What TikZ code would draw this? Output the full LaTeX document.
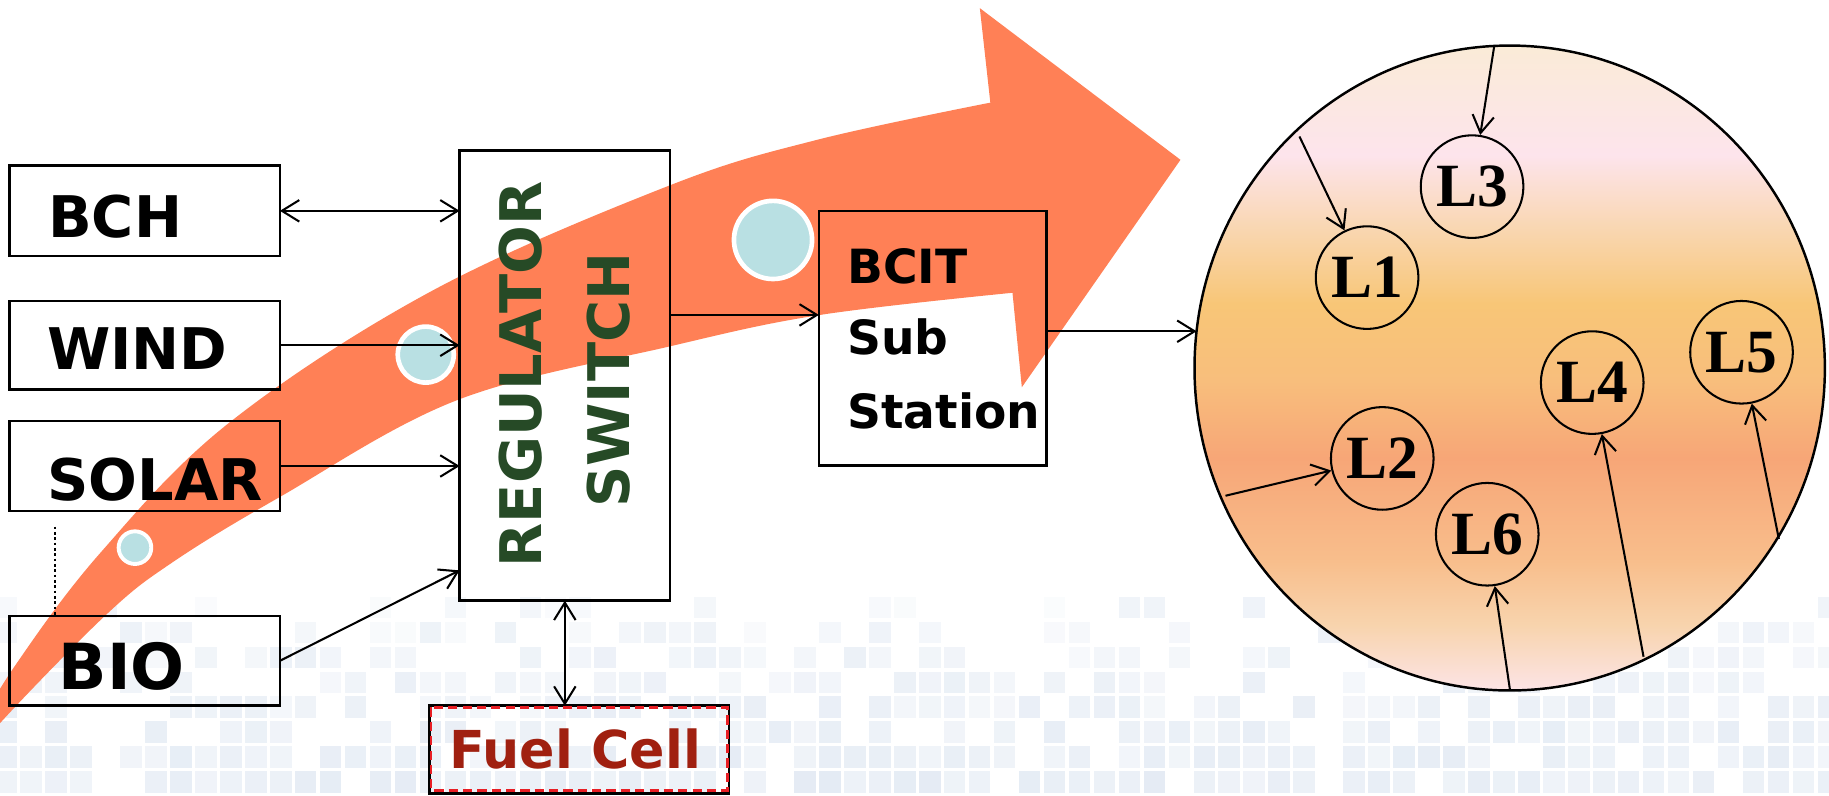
\documentclass[tikz,border=0pt]{standalone}
\usepackage{fontspec}
\setmainfont{DejaVu Sans}
\newfontfamily\lfont{Liberation Serif}
\usetikzlibrary{arrows.meta,shapes.geometric}

\definecolor{flow}{RGB}{255,128,86}
\definecolor{dotfill}{RGB}{185,224,227}
\definecolor{regtext}{RGB}{38,74,38}
\definecolor{fueltext}{RGB}{160,32,16}
\definecolor{dashred}{RGB}{232,30,36}
\definecolor{tile}{RGB}{206,219,236}
% colours of the load zone, bottom to top
\definecolor{zA}{RGB}{252,228,230}
\definecolor{zB}{RGB}{248,212,174}
\definecolor{zC}{RGB}{248,190,140}
\definecolor{zD}{RGB}{247,166,119}
\definecolor{zE}{RGB}{248,190,124}
\definecolor{zF}{RGB}{248,198,119}
\definecolor{zG}{RGB}{249,215,179}
\definecolor{zH}{RGB}{253,228,236}
\definecolor{zI}{RGB}{250,235,215}
\pgfdeclareverticalshading{loadzone}{100bp}{%
  color(0bp)=(zA); color(25bp)=(zA); color(30bp)=(zB); color(35bp)=(zC);
  color(43bp)=(zD); color(49bp)=(zE); color(55bp)=(zF); color(61bp)=(zG);
  color(66.5bp)=(zH); color(75bp)=(zI); color(100bp)=(zI)}

\begin{document}
\begin{tikzpicture}[x=0.02cm, y=-0.02cm,
  box/.style={draw, line width=1.3pt, inner sep=0pt, outer sep=0pt},
  src/.style={font=\fontsize{28}{30}\selectfont\bfseries, anchor=base west, inner sep=0pt},
  subtxt/.style={font=\fontsize{23}{25}\selectfont\bfseries, anchor=base west, inner sep=0pt},
  vert/.style={font=\fontsize{28}{30}\selectfont\bfseries, text=regtext, rotate=90, anchor=base, inner sep=0pt},
  barb/.tip={Straight Barb[length=8.5pt,width=10.5pt]},
  arr/.style={line width=1pt, -barb},
  darr/.style={line width=1pt, barb-barb},
  load/.style={circle, draw, line width=1pt, minimum size=1.76cm, inner sep=0pt,
    font=\lfont\bfseries\fontsize{30}{32}\selectfont},
  dot/.style={circle, fill=dotfill, draw=white, inner sep=0pt}
]
\useasboundingbox (0,0) rectangle (1568,682);
\fill[white] (0,0) rectangle (1568,682);

% faint tiled band along the bottom
\pgfmathsetseed{2718}
\begin{scope}
  \clip (0,0) rectangle (1568,682);
  \foreach \r in {0,...,8}{
    \foreach \c in {0,...,73}{
      \pgfmathtruncatemacro{\keep}{rnd < (0.35+0.07*\r)}
      \pgfmathsetmacro{\op}{0.08+0.03*\r+0.25*rnd}
      \ifnum\keep=1
        \fill[tile, fill opacity=\op] ({\c*21.4-4},{511.5+\r*21.4}) rectangle ++(18.5,18.5);
      \fi
    }
  }
\end{scope}

% sweeping power-flow arrow
\fill[flow] plot[smooth, tension=0.6] coordinates {(-25,635) (12,572) (86,474) (197,362) (371,249) (574,159) (700,120) (849,88)}
  -- (840,7) -- (1012,137) -- (876,332) -- (868,251)
  -- plot[smooth, tension=0.6] coordinates {(868,251) (703,270) (574,297) (392,343) (240,426) (148,482) (91,527) (0,620) (-25,655)}
  -- cycle;

% bubbles riding on the flow
\node[dot, minimum size=1.34cm, line width=2.27pt] (d1) at (662.7,205.7) {};
\node[dot, minimum size=0.96cm, line width=2.27pt] (d2) at (365,304) {};
\node[dot, minimum size=0.56cm, line width=1.9pt] (d3) at (115.7,469.5) {};

% sources
\node[box, minimum width=4.64cm, minimum height=1.55cm] (bch) at (124,180.75) {};
\node[box, minimum width=4.64cm, minimum height=1.52cm] (wind) at (124,296) {};
\node[box, minimum width=4.64cm, minimum height=1.54cm] (solar) at (124,399.5) {};
\node[box, minimum width=4.64cm, minimum height=1.54cm] (bio) at (124,566.5) {};
\node[src] (bchtxt) at (41,204) {BCH};
\node[src] (windtxt) at (40,317) {WIND};
\node[src] (solartxt) at (40.5,429) {SOLAR};
\node[src, font=\fontsize{31}{33}\selectfont\bfseries] (biotxt) at (50,591) {BIO};

\coordinate (dottop) at (47,451.5);
\draw[line width=1.2pt, dash pattern=on 1.3pt off 1.3pt] (dottop) -- (dottop |- bio.north);

% regulator / switch
\node[box, minimum width=3.61cm, minimum height=7.72cm] (reg) at (484.25,322) {};
\node[vert] (regtxt) at (464,321) {REGULATOR};
\node[vert] (swtxt) at (540,326) {SWITCH};

% substation
\node[box, minimum width=3.9cm, minimum height=4.36cm] (bcit) at (799.5,290) {};
\node[subtxt] (bcittxt) at (726,243) {BCIT};
\node[subtxt] (subtxt1) at (726,304) {Sub};
\node[subtxt] (subtxt2) at (726,367) {Station};

% fuel cell
\node[box, minimum width=5.14cm, minimum height=1.5cm] (fuel) at (496.5,642.5) {};
\draw[dashred, line width=1.4pt, dash pattern=on 4.5pt off 2.5pt]
  ([shift={(1.5,1.5)}]fuel.north west) rectangle ([shift={(-1.5,-2.5)}]fuel.south east);
\node[anchor=base west, inner sep=0pt, text=fueltext, font=\fontsize{25.5}{27}\selectfont\bfseries] (fueltxt) at (385,658.6) {Fuel Cell};

% feeds into the regulator and onwards
\draw[darr] (bch.east) -- (bch.east -| reg.west);
\draw[arr] (wind.east) -- (wind.east -| reg.west);
\draw[arr] (solar.east) -- (solar.east -| reg.west);
\coordinate (bioin) at (394,489);
\draw[arr] (bio.east) -- (bioin);
\coordinate (subin) at (702,270);
\draw[arr] (reg.east |- subin) -- (subin);
\draw[darr] (reg.south) -- (reg.south |- fuel.north);

% load zone
\node[ellipse, draw, line width=1.2pt, shade, shading=loadzone, minimum width=10.81cm,
  minimum height=11.06cm, inner sep=0pt, outer sep=0pt] (zone) at (1294.25,315.5) {};
\coordinate (feed) at (1025.8,284);
\draw[arr] (bcit.east |- feed) -- (feed);

\node[load] (L1) at (1172,238) {L1};
\node[load] (L2) at (1185,393) {L2};
\node[load] (L3) at (1262,160) {L3};
\node[load] (L4) at (1365,328) {L4};
\node[load] (L5) at (1493,302) {L5};
\node[load] (L6) at (1275,458) {L6};

\coordinate (s1) at (1114,117);
\coordinate (s2) at (1050.6,425);
\coordinate (s3) at (1281,39.5);
\coordinate (s4) at (1409,563);
\coordinate (s5) at (1525,462);
\coordinate (s6) at (1294.5,591.6);
\draw[arr] (s1) -- (L1);
\draw[arr] (s2) -- (L2);
\draw[arr] (s3) -- (L3);
\draw[arr] (s4) -- (L4);
\draw[arr] (s5) -- (L5);
\draw[arr] (s6) -- (L6);
\end{tikzpicture}
\end{document}
